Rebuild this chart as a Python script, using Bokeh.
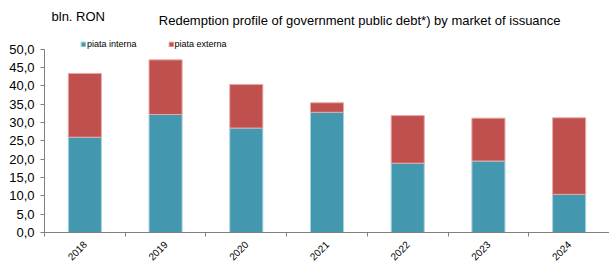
from math import pi
from bokeh.plotting import figure
from bokeh.models import ColumnDataSource, FixedTicker, Legend, LegendItem, Label, Range1d
from bokeh.embed import file_html
from bokeh.resources import INLINE

years = ["2018", "2019", "2020", "2021", "2022", "2023", "2024"]
piata_interna = [26.0, 32.2, 28.5, 32.8, 18.9, 19.5, 10.4]
piata_externa = [17.4, 14.9, 11.9, 2.6, 13.0, 11.7, 20.9]
y_ticks = [0, 5, 10, 15, 20, 25, 30, 35, 40, 45, 50]

FONT = "Liberation Sans"
TEAL = "#4398B0"
RED = "#C0504D"

x_pos = [i + 0.5 for i in range(len(years))]
src = ColumnDataSource(dict(x=x_pos, interna=piata_interna, externa=piata_externa))

p = figure(width=609, height=266, output_backend="svg", toolbar_location=None,
           x_range=Range1d(0, len(years)), y_range=Range1d(0, 63.3),
           min_border_left=44, min_border_right=0, min_border_top=0, min_border_bottom=28)
p.outline_line_color = None
p.border_fill_color = "#ffffff"
p.background_fill_color = "#ffffff"
p.xgrid.visible = False
p.ygrid.visible = False

r = p.vbar_stack(["interna", "externa"], x="x", width=0.41, source=src,
                 color=[TEAL, RED], line_color=["#A9D3DF", "#E6AAA8"], line_width=1)

# x axis
p.xaxis.ticker = FixedTicker(ticks=x_pos, minor_ticks=list(range(len(years) + 1)))
p.xaxis.major_label_overrides = {v: y for v, y in zip(x_pos, years)}
p.xaxis.major_tick_line_color = None
p.xaxis.minor_tick_line_color = "#808080"
p.xaxis.minor_tick_out = 4
p.xaxis.minor_tick_in = 0
p.xaxis.axis_line_color = "#808080"
p.xaxis.major_label_orientation = pi / 4
p.xaxis.major_label_text_font = FONT
p.xaxis.major_label_text_font_size = "10px"
p.xaxis.major_label_text_color = "#000000"
p.xaxis.major_label_standoff = 4

# y axis
p.yaxis.ticker = FixedTicker(ticks=y_ticks, minor_ticks=[])
p.yaxis.bounds = (0, 50)
p.yaxis.major_label_overrides = {v: f"{v:.1f}".replace(".", ",") for v in y_ticks}
p.yaxis.major_tick_line_color = "#808080"
p.yaxis.major_tick_out = 4
p.yaxis.major_tick_in = 0
p.yaxis.axis_line_color = "#808080"
p.yaxis.major_label_text_font = FONT
p.yaxis.major_label_text_font_size = "13px"
p.yaxis.major_label_text_color = "#000000"
p.yaxis.major_label_standoff = 6

legend = Legend(items=[LegendItem(label="piata interna", renderers=[r[0]]),
                       LegendItem(label="piata externa", renderers=[r[1]])],
                location=(36, 183), orientation="horizontal",
                label_text_font=FONT, label_text_font_size="9px", label_text_color="#000000",
                glyph_width=6, glyph_height=6, label_standoff=1, spacing=31,
                padding=0, margin=0, border_line_color=None, background_fill_alpha=0,
                label_height=10)
p.add_layout(legend)

p.add_layout(Label(x=0.087, y=58.9, text="bln. RON", text_baseline="middle",
                   text_font=FONT, text_font_size="13px", text_color="#000000"))
p.add_layout(Label(x=1.416, y=57.8, text_baseline="middle",
                   text="Redemption profile of government public debt*) by market of issuance",
                   text_font=FONT, text_font_size="13px", text_color="#000000"))

open("out.html", "w").write(file_html(p, INLINE))
